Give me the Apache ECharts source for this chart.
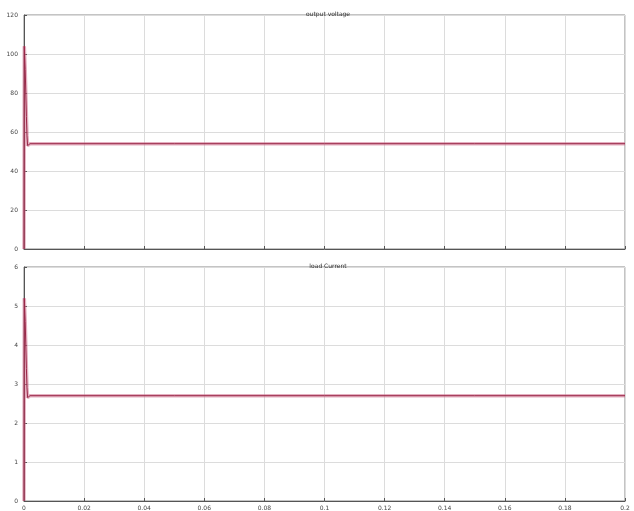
<!DOCTYPE html>
<html>
<head>
<meta charset="utf-8">
<script src="https://cdn.jsdelivr.net/npm/echarts@6/dist/echarts.min.js"></script>
<style>
  html, body { margin: 0; padding: 0; background: #ffffff; }
  #chart { width: 634px; height: 511px; }
</style>
</head>
<body>
<div id="chart"></div>
<script>
// Simulation time samples (s)
const timeS = [0, 0.0001, 0.0002, 0.0004, 0.0006, 0.0008, 0.001, 0.0012, 0.0015, 0.002, 0.05, 0.1, 0.15, 0.2];
// Output voltage (V)
const outputVoltage = [0, 104, 103, 92, 80, 68, 58, 53, 53.5, 54, 54, 54, 54, 54];
// Load current (A)
const loadCurrent = [0, 5.2, 5.15, 4.6, 4.0, 3.4, 2.9, 2.65, 2.68, 2.7, 2.7, 2.7, 2.7, 2.7];

const subplotTitles = ['output voltage', 'load Current'];
const xTicks = { min: 0, max: 0.2, step: 0.02 };
const yTicksVoltage = { min: 0, max: 120, step: 20 };
const yTicksCurrent = { min: 0, max: 6, step: 1 };

const pairs = (xs, ys) => xs.map((x, i) => [x, ys[i]]);

const fmtX = v => {
  if (v === 0) return '0';
  return String(Math.round(v * 100) / 100);
};

const gridStyle = { show: true, lineStyle: { color: '#dcdcdc', width: 1 } };
const labelStyle = { fontSize: 6, color: '#444', fontFamily: 'DejaVu Sans' };

function xAxisFor(gridIndex, showLabels) {
  return {
    type: 'value', gridIndex,
    min: xTicks.min, max: xTicks.max, interval: xTicks.step,
    axisLine: { show: true, onZero: false, lineStyle: { color: '#555', width: 1 } },
    axisTick: { show: true, inside: true, length: 3, lineStyle: { color: '#555' } },
    axisLabel: Object.assign({ show: showLabels, margin: 4, formatter: fmtX }, labelStyle),
    splitLine: gridStyle
  };
}
function yAxisFor(gridIndex, t) {
  return {
    type: 'value', gridIndex,
    min: t.min, max: t.max, interval: t.step,
    axisLine: { show: true, lineStyle: { color: '#555', width: 1 } },
    axisTick: { show: true, inside: true, length: 3, lineStyle: { color: '#555' } },
    axisLabel: Object.assign({ margin: 6 }, labelStyle),
    splitLine: gridStyle
  };
}

function traceSeries(idx, data) {
  return [
    {
      type: 'line', xAxisIndex: idx, yAxisIndex: idx, data,
      showSymbol: false, silent: true, animation: false,
      lineStyle: { color: 'rgba(205,110,140,0.55)', width: 3.5 }
    },
    {
      type: 'line', xAxisIndex: idx, yAxisIndex: idx, data,
      showSymbol: false, silent: true, animation: false,
      lineStyle: { color: '#9a2848', width: 1 }
    }
  ];
}

const chart = echarts.init(document.getElementById('chart'), null, { renderer: 'canvas' });
chart.setOption({
  backgroundColor: '#ffffff',
  animation: false,
  title: [
    { text: subplotTitles[0], left: 323, top: 6, textAlign: 'center',
      textStyle: { fontSize: 6, fontWeight: 'normal', color: '#333', fontFamily: 'DejaVu Sans' } },
    { text: subplotTitles[1], left: 323, top: 258, textAlign: 'center',
      textStyle: { fontSize: 6, fontWeight: 'normal', color: '#333', fontFamily: 'DejaVu Sans' } }
  ],
  grid: [
    { left: 24, right: 9, top: 15, height: 234, show: true, borderColor: '#888', borderWidth: 1, backgroundColor: '#fff' },
    { left: 24, right: 9, top: 267, height: 234, show: true, borderColor: '#888', borderWidth: 1, backgroundColor: '#fff' }
  ],
  xAxis: [xAxisFor(0, false), xAxisFor(1, true)],
  yAxis: [yAxisFor(0, yTicksVoltage), yAxisFor(1, yTicksCurrent)],
  series: [
    ...traceSeries(0, pairs(timeS, outputVoltage)),
    ...traceSeries(1, pairs(timeS, loadCurrent))
  ]
});
</script>
</body>
</html>
